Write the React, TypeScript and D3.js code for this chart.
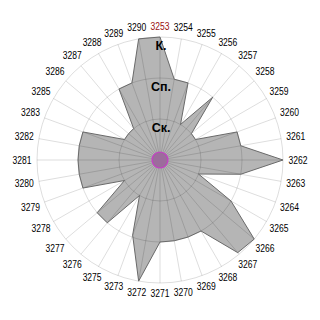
import React from "react";
import * as d3 from "d3";

const categories: string[] = [
  "3253","3254","3255","3256","3257","3258","3259","3260","3261","3262",
  "3263","3264","3265","3266","3267","3268","3269","3270","3271","3272",
  "3273","3275","3276","3277","3278","3279","3280","3281","3282","3283",
  "3285","3286","3287","3288","3289","3290",
];
const values: number[] = [
  3,2,2,1,2,1,1,2,2,3,
  2,1,2,3,2.95,2,2,2,2,3,
  1.95,1,2,2,1,2,2,2,2,2,
  1,1,1,2,2,3,
];
const levels: number[] = [1, 2, 3];
const levelLabels: string[] = ["Ск.", "Сп.", "К."];
const highlighted = "3253";

export default function App() {
  const W = 320, H = 320;
  const cx = 160, cy = 160;
  const R = 123;
  const r = d3.scaleLinear().domain([0, 3]).range([0, R]);
  const angle = d3
    .scaleBand<string>()
    .domain(categories)
    .range([0, 2 * Math.PI])
    .align(0)
    .paddingInner(0)
    .paddingOuter(0);
  const a = (c: string) => angle(c) as number;

  const line = d3
    .lineRadial<number>()
    .angle((_, i) => a(categories[i]))
    .radius((d) => r(d))
    .curve(d3.curveLinearClosed);

  const pt = (ang: number, rad: number): [number, number] => [
    Math.sin(ang) * rad,
    -Math.cos(ang) * rad,
  ];

  const gridStroke = "rgba(0,0,0,0.135)";
  const font = "'Liberation Sans', Arial, sans-serif";

  return (
    <svg
      width={W}
      height={H}
      style={{ position: "absolute", left: 0, top: 0, background: "#fff" }}
    >
      <g transform={`translate(${cx},${cy})`}>
        <path d={line(values) || ""} fill="#b5b5b5" stroke="none" />
        {levels.map((l) => (
          <circle key={l} r={r(l)} fill="none" stroke={gridStroke} strokeWidth={1} />
        ))}
        {categories.map((c) => {
          const [x, y] = pt(a(c), R);
          return <line key={c} x1={0} y1={0} x2={x} y2={y} stroke={gridStroke} strokeWidth={1} />;
        })}
        <path d={line(values) || ""} fill="none" stroke="#6a6a6a" strokeWidth={1} />
        <circle r={8} fill="#9c6c9c" stroke="#c83cc8" strokeWidth={1.2} />
        {levels.map((l, i) => (
          <text
            key={l}
            x={1}
            y={-r(l) + 13}
            textAnchor="middle"
            fontFamily={font}
            fontWeight="bold"
            fontSize={12.5}
            fill="#000"
          >
            {levelLabels[i]}
          </text>
        ))}
        {categories.map((c) => {
          const ang = a(c);
          const s = Math.sin(ang);
          const rr = 133.5 + Math.abs(s) * 4.5;
          const [x, y] = pt(ang, rr);
          return (
            <text
              key={c}
              x={x - 9.5}
              y={y}
              dy="0.35em"
              textLength={19}
              lengthAdjust="spacingAndGlyphs"
              fontFamily={font}
              fontSize={10}
              fill={c === highlighted ? "#9a1010" : "#000"}
            >
              {c}
            </text>
          );
        })}
      </g>
    </svg>
  );
}
